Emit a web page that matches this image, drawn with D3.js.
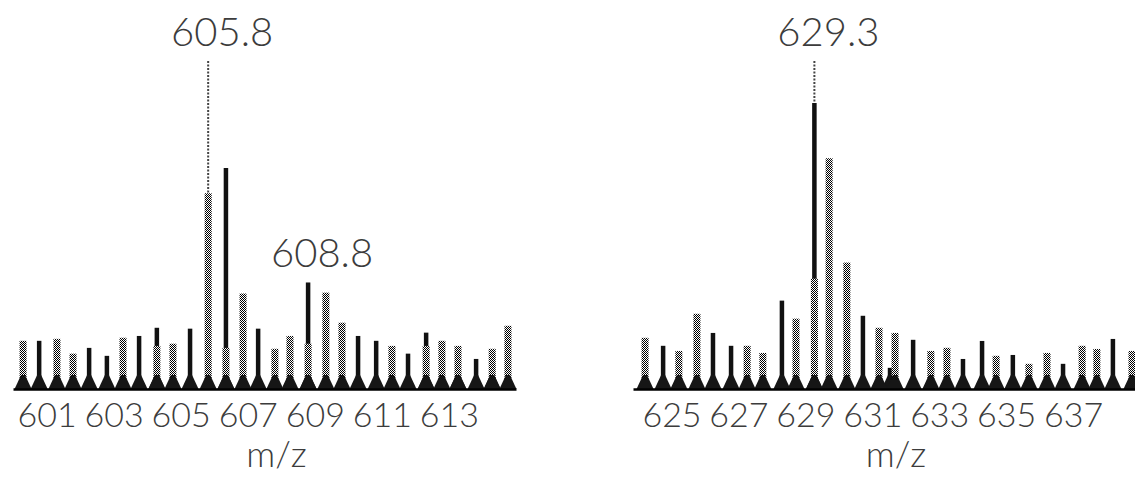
<!DOCTYPE html>
<html><head><meta charset="utf-8">
<script src="https://cdn.jsdelivr.net/npm/d3@7"></script>
<style>
html,body{margin:0;padding:0;background:#fff;}
svg{display:block;}
text{font-family:"Lato","DejaVu Sans",sans-serif;}
</style></head>
<body>
<svg id="chart" width="1135" height="478"></svg>
<script>
// ---------- data ----------
const leftDomain = [600, 615];
const leftTicks = [601, 603, 605, 607, 609, 611, 613];
const leftBlackMz  = [600.78, 602.27, 602.80, 603.76, 604.29, 605.28, 606.35, 607.31, 608.80, 610.29, 610.83, 611.78, 612.32, 613.27, 613.81, 614.29];
const leftBlackInt = [21.8, 18.6, 15.0, 24.0, 27.7, 27.3, 100, 27.3, 48.2, 24.0, 21.8, 16.0, 25.5, 17.3, 13.6, 15.0];
const leftGrayMz   = [600.30, 601.31, 601.79, 603.28, 604.29, 604.77, 605.82, 606.35, 606.86, 607.81, 608.26, 608.80, 609.33, 609.81, 611.30, 612.32, 612.79, 613.27, 614.29, 614.76];
const leftGrayInt  = [21.8, 22.7, 16.0, 23.2, 19.5, 20.5, 88.6, 18.6, 43.2, 18.2, 24.0, 20.5, 43.6, 30.0, 19.5, 19.5, 21.8, 19.5, 18.2, 28.6];
const leftLabels   = ["605.8", "608.8"];
const leftLabelMz  = [605.82, 608.80];
const leftLabelSeries = ["gray", "black"];
const leftLabelLeader = [true, false];

const rightDomain = [623.85, 638.85];
const rightTicks = [625, 627, 629, 631, 633, 635, 637];
const rightBlackMz  = [624.75, 626.24, 626.78, 628.30, 629.27, 630.72, 631.53, 632.22, 633.71, 634.28, 635.20, 636.70, 638.19];
const rightBlackInt = [15.1, 19.6, 15.1, 30.9, 100, 25.6, 7.4, 17.2, 10.5, 16.8, 11.9, 8.8, 17.5];
const rightGrayMz   = [624.21, 625.22, 625.76, 627.26, 627.73, 628.72, 629.27, 629.71, 630.24, 631.20, 631.68, 632.75, 633.23, 634.70, 635.68, 636.22, 637.27, 637.71, 638.76];
const rightGrayInt  = [17.9, 13.3, 26.3, 15.1, 12.6, 24.6, 38.6, 80.7, 44.2, 21.4, 19.6, 13.3, 14.4, 11.6, 8.8, 12.6, 15.1, 14.0, 13.3];
const rightLabels   = ["629.3"];
const rightLabelMz  = [629.27];
const rightLabelSeries = ["black"];
const rightLabelLeader = [true];

const axisTitle = "m/z";

// ---------- layout ----------
const baseY = 389;
const panels = [
  {domain: leftDomain, range: [13, 516], top: 168, ticks: leftTicks,
   black: leftBlackMz.map((m,i)=>({mz:m, v:leftBlackInt[i]})),
   gray: leftGrayMz.map((m,i)=>({mz:m, v:leftGrayInt[i]})),
   labels: leftLabels.map((t,i)=>({text:t, mz:leftLabelMz[i], series:leftLabelSeries[i], leader:leftLabelLeader[i]}))},
  {domain: rightDomain, range: [633, 1135], top: 103, ticks: rightTicks,
   black: rightBlackMz.map((m,i)=>({mz:m, v:rightBlackInt[i]})),
   gray: rightGrayMz.map((m,i)=>({mz:m, v:rightGrayInt[i]})),
   labels: rightLabels.map((t,i)=>({text:t, mz:rightLabelMz[i], series:rightLabelSeries[i], leader:rightLabelLeader[i]}))}
];

const svg = d3.select("#chart");
const defs = svg.append("defs");
const pat = defs.append("pattern").attr("id","dither").attr("patternUnits","userSpaceOnUse")
  .attr("width",2).attr("height",2);
pat.append("rect").attr("width",2).attr("height",2).attr("fill","#fff");
pat.append("rect").attr("x",0).attr("y",0).attr("width",1).attr("height",1).attr("fill","#000");
pat.append("rect").attr("x",1).attr("y",1).attr("width",1).attr("height",1).attr("fill","#000");

panels.forEach(p => {
  const x = d3.scaleLinear().domain(p.domain).range(p.range);
  const y = d3.scaleLinear().domain([0,100]).range([baseY, p.top]);
  const g = svg.append("g");

  // black stems
  g.selectAll("rect.black").data(p.black).join("rect")
    .attr("class","black")
    .attr("x", d => x(d.mz) - 2.25).attr("width", 4.5)
    .attr("y", d => y(d.v)).attr("height", d => baseY - y(d.v))
    .attr("fill", "#111");

  // gray (dithered) stems on top
  g.selectAll("rect.gray").data(p.gray).join("rect")
    .attr("class","gray")
    .attr("x", d => x(d.mz) - 3.5).attr("width", 7)
    .attr("y", d => y(d.v)).attr("height", d => baseY - y(d.v))
    .attr("fill", "url(#dither)");

  // dark baseline bases of all peaks
  const all = p.black.concat(p.gray);
  g.selectAll("path.base").data(all).join("path")
    .attr("class","base")
    .attr("d", d => `M${x(d.mz)-8.5},${baseY} L${x(d.mz)-2},${baseY-14} L${x(d.mz)+2},${baseY-14} L${x(d.mz)+8.5},${baseY} Z`)
    .attr("fill", "#161616");

  // axis
  const ax = g.append("g").attr("transform", `translate(0,${baseY})`)
    .call(d3.axisBottom(x).tickValues(p.ticks).tickSize(0).tickPadding(14).tickFormat(d3.format("d")));
  ax.select(".domain").attr("stroke","#000").attr("stroke-width",2.5);
  ax.selectAll(".tick text").attr("font-size",34).attr("fill","#3c3c3c")
    .attr("font-family","Lato, DejaVu Sans, sans-serif").attr("font-weight",300);

  // axis title
  g.append("text").attr("x", (p.range[0]+p.range[1])/2 + 12).attr("y", 467)
    .attr("text-anchor","middle").attr("font-size",36).attr("fill","#3c3c3c").attr("font-weight",300)
    .text(axisTitle);

  // peak labels
  p.labels.forEach(l => {
    const src = (l.series === "black" ? p.black : p.gray).find(d => Math.abs(d.mz - l.mz) < 0.01);
    const px = x(l.mz);
    const peakTop = y(src.v);
    const textY = l.leader ? 46 : peakTop - 15;
    if (l.leader) {
      g.append("line").attr("x1",px).attr("x2",px).attr("y1",61).attr("y2",peakTop)
        .attr("stroke","#444").attr("stroke-width",2).attr("stroke-dasharray","2,1.5");
    }
    g.append("text").attr("x", px + 14).attr("y", textY).attr("text-anchor","middle")
      .attr("font-size",40).attr("fill","#3c3c3c").attr("font-weight",300).text(l.text);
  });
});
</script>
</body></html>
